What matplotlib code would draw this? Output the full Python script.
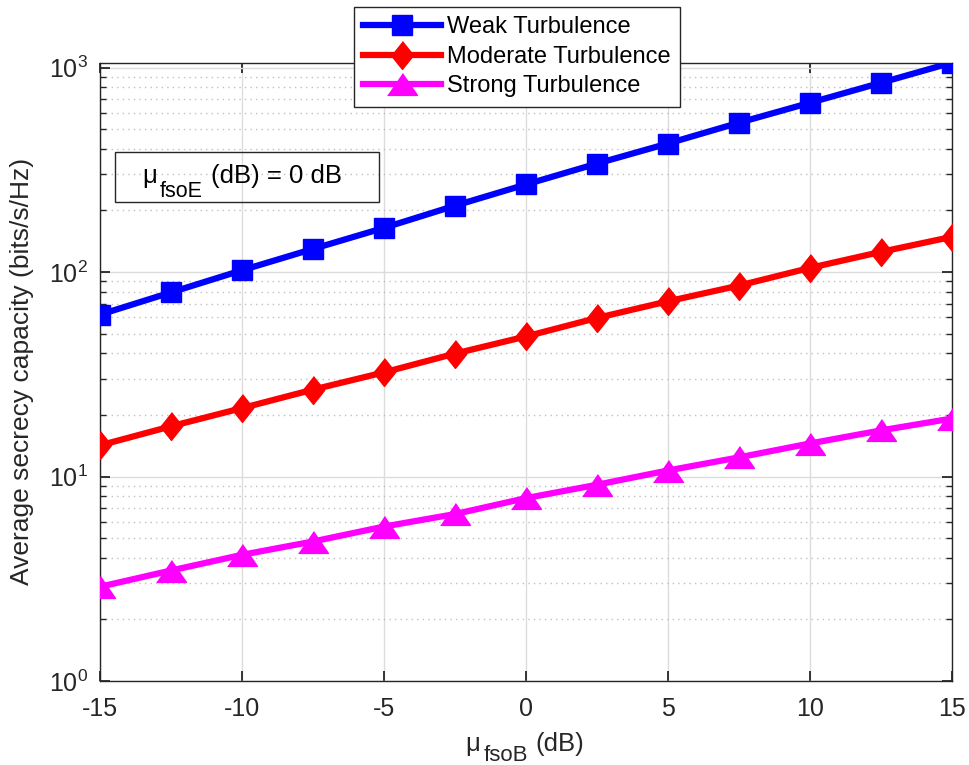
import matplotlib
matplotlib.use("Agg")
import matplotlib.pyplot as plt
from matplotlib.patches import Rectangle
from matplotlib.ticker import LogLocator, NullFormatter

plt.rcParams['font.family'] = ['Liberation Sans', 'DejaVu Sans']
plt.rcParams['mathtext.fontset'] = 'custom'
plt.rcParams['mathtext.rm'] = 'Liberation Sans'
plt.rcParams['mathtext.it'] = 'Liberation Sans:italic'

# Data
mu_fsoB = [-15, -12.5, -10, -7.5, -5, -2.5, 0, 2.5, 5, 7.5, 10, 12.5, 15]
weak = [61.9, 79.5, 102, 129.7, 164.4, 211, 268, 339, 425, 537, 672, 842, 1056]
moderate = [14.2, 17.6, 21.6, 26.6, 32.3, 39.9, 48.4, 59.6, 71.9, 85.8, 104.7, 125.4, 148.5]
strong = [2.89, 3.47, 4.14, 4.81, 5.69, 6.55, 7.84, 9.11, 10.7, 12.4, 14.5, 16.8, 19.2]
labels = ['Weak Turbulence', 'Moderate Turbulence', 'Strong Turbulence']
xticks = [-15, -10, -5, 0, 5, 10, 15]
xlabel_parts = ['μ', 'fsoB', '(dB)']
box_parts = ['μ', 'fsoE', '(dB) = 0 dB']
ylabel = 'Average secrecy capacity (bits/s/Hz)'

W, H = 969, 765
fig = plt.figure(figsize=(W / 100, H / 100), dpi=100)
ax = fig.add_axes([100 / W, 1 - 681 / H, (951.7 - 100) / W, (681 - 62.7) / H])

tri = [(-1, -0.73), (1, -0.73), (0, 0.73)]
dia = [(0, 1), (0.8, 0), (0, -1), (-0.8, 0)]

ax.plot(mu_fsoB, weak, color='#0000ff', lw=4.5, marker='s', ms=14, label=labels[0], zorder=3)
ax.plot(mu_fsoB, moderate, color='#ff0000', lw=4.5, marker=dia, ms=20, label=labels[1], zorder=3)
ax.plot(mu_fsoB, strong, color='#ff00ff', lw=4.5, marker=tri, ms=21.5, label=labels[2], zorder=3)

ax.set_yscale('log')
ax.set_xlim(-15, 15)
ax.set_ylim(1, max(weak))
ax.set_xticks(xticks)
ax.set_xticklabels([str(t) for t in xticks])
ax.yaxis.set_major_locator(LogLocator(base=10, numticks=10))
ax.yaxis.set_minor_locator(LogLocator(base=10, subs=range(2, 10), numticks=20))
ax.yaxis.set_minor_formatter(NullFormatter())

ax.grid(True, which='major', color='#dcdcdc', lw=1.0, ls='-')
ax.grid(True, which='minor', axis='y', color='#c0c0c0', lw=1.0, ls=(0, (1, 3)))
ax.set_axisbelow(True)

for s in ax.spines.values():
    s.set_color('#262626')
    s.set_linewidth(1.0)
ax.tick_params(which='both', direction='in', top=True, right=True, colors='#262626',
               labelsize=18, labelcolor='#262626')
ax.tick_params(which='major', length=7, width=1.3)
ax.tick_params(axis='x', which='major', pad=11.5)
ax.tick_params(axis='y', which='major', pad=8.6)
ax.tick_params(which='minor', length=4, width=1.0)

ax.set_ylabel(ylabel, fontsize=19, color='#262626', labelpad=11)

leg = fig.legend(loc='upper left', bbox_to_anchor=(354 / W, 1 - 7 / H), fontsize=17,
                 frameon=True, fancybox=False, edgecolor='#262626', framealpha=1,
                 handlelength=3.3, handletextpad=0.25, labelspacing=0.31,
                 borderpad=0.4, borderaxespad=0)
leg.get_frame().set_linewidth(1.0)

rect = Rectangle((115 / W, 1 - 202.3 / H), (379 - 115) / W, (202.3 - 151.7) / H,
                 transform=fig.transFigure, facecolor='none', edgecolor='#262626',
                 lw=1.0, zorder=5)
fig.patches.append(rect)

renderer = fig.canvas.get_renderer()


def compose(parts, sizes, dys, gaps, xc, ybase, color):
    """Lay out text pieces left to right (pixel coords), centred at xc."""
    texts = []
    for p, s in zip(parts, sizes):
        t = fig.text(0, 0, p, fontsize=s, color=color, ha='left', va='baseline',
                     transform=None, zorder=6)
        texts.append(t)
    widths = [t.get_window_extent(renderer).width for t in texts]
    total = sum(widths) + sum(gaps)
    x = xc - total / 2
    for i, t in enumerate(texts):
        t.set_position((x, H - (ybase + dys[i])))
        x += widths[i] + (gaps[i] if i < len(gaps) else 0)


compose(xlabel_parts, [18.5, 16, 18.5], [0, 10, 0], [3, 8], 525, 751, '#262626')
compose(box_parts, [18.5, 15.5, 18.5], [0, 14, 0], [3, 8], 242, 183, 'black')

fig.savefig('out.png', dpi=100)
